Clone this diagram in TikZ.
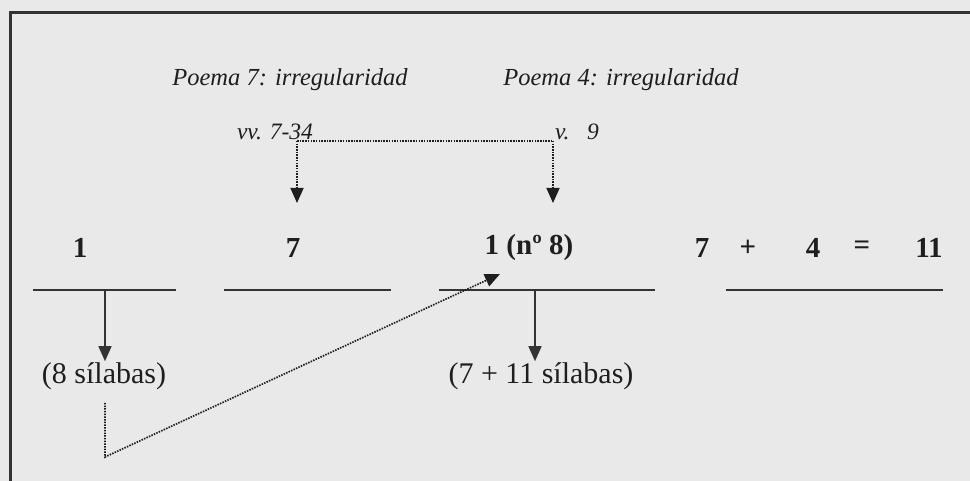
\documentclass[tikz,border=0pt]{standalone}
\usepackage{fontspec}
\setmainfont{Liberation Serif}
\usetikzlibrary{arrows.meta}
\definecolor{paper}{HTML}{E9E9E9}
\definecolor{ink}{HTML}{1E1E1E}
\definecolor{rule}{HTML}{333333}

\begin{document}
\begin{tikzpicture}[x=1pt, y=-1pt,
  poem/.style={font=\fontsize{24.5}{28}\selectfont\itshape, text=ink},
  verse/.style={font=\fontsize{23.5}{28}\selectfont\itshape, text=ink},
  num/.style={font=\fontsize{29}{34}\selectfont\bfseries, text=ink},
  syl/.style={font=\fontsize{30}{36}\selectfont, text=ink, inner sep=1pt},
  bar/.style={draw=rule, line width=2pt},
  arr/.style={draw=rule, line width=1.4pt, -{Triangle[length=15pt, width=13pt]}},
  dots/.style={draw=ink, line width=1.7pt, dash pattern=on 1.5pt off 1.2pt},
  darr/.style={dots, -{Triangle[length=15pt, width=13pt, sep=0pt]}},
]

% Background
\useasboundingbox (0,0) rectangle (970,481);
\fill[paper] (0,0) rectangle (970,481);
\draw[rule, line width=3pt] (10,481) -- (10,13) -- (970,13);

% Headings
\node[poem] (p7) at (290,80) {Poema 7: irregularidad};
\node[poem] (p4) at (621,80) {Poema 4: irregularidad};
\node[verse] (vv) at (275,132) {vv. 7-34};
\node[verse] (v9) at (577,132) {v.\ \ \ 9};

% Counts
\node[num] (n1) at (80,248) {1};
\node[num] (n7) at (293,248) {7};
\node[num] (n18) at (529,248) {1 (nº 8)};
\node[num] (s7) at (702,248) {7};
\node[num] (plus) at (748,248) {+};
\node[num] (s4) at (813,248) {4};
\node[num] (eq) at (862,248) {=};
\node[num] (s11) at (929,248) {11};

\draw[bar] (33,290) -- (176,290);
\draw[bar] (224,290) -- (391,290);
\draw[bar] (439,290) -- (655,290);
\draw[bar] (726,290) -- (943,290);

\node[syl] (syl8) at (104,376) {(8 sílabas)};
\node[syl] (syl18) at (541,376) {(7 + 11 sílabas)};

% Dotted links
\coordinate (j7) at (297,141);
\coordinate (j9) at (553,141);
\coordinate (a7) at (297,203);
\coordinate (a9) at (553,203);
\draw[dots] (j7) -- (j9);
\draw[darr] (j7) -- (a7);
\draw[darr] (j9) -- (a9);

\coordinate (b8) at (105,290);
\coordinate (b18) at (535,290);
\draw[arr] (b8) -- (b8 |- syl8.north);
\draw[arr] (b18) -- (b18 |- syl18.north);

\coordinate (c8) at (105,457);
\coordinate (a18) at (500,274);
\draw[darr] ([yshift=-12pt]b8 |- syl8.south) -- (c8) -- (a18);
\end{tikzpicture}
\end{document}
